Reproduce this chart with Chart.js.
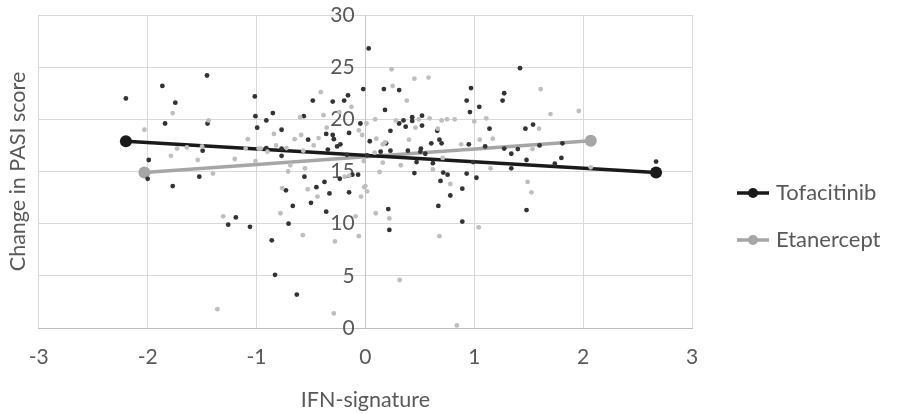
<!DOCTYPE html>
<html>
<head>
<meta charset="utf-8">
<script src="https://cdn.jsdelivr.net/npm/chart.js@4/dist/chart.umd.min.js"></script>
<style>
  html, body { margin: 0; padding: 0; background: #fff; }
</style>
</head>
<body>
<canvas id="chart" width="907" height="414"></canvas>
<script>
// series names (legend)
const seriesNames = ["Tofacitinib", "Etanercept"];

// Tofacitinib patients: [IFN-signature, change in PASI]
const tofaPoints = [
  [-2.20, 22.0], [-1.99, 16.1], [-2.00, 14.3], [-1.865, 23.2], [-1.455, 24.2],
  [-1.746, 21.6], [-1.84, 19.6], [-1.45, 19.6], [-1.016, 22.2], [-1.01, 20.3],
  [-0.994, 19.2], [-1.495, 17.0], [-1.526, 14.5], [-1.77, 13.6], [-1.19, 10.6],
  [-1.26, 9.9], [-1.06, 9.7], [0.03, 26.8], [-0.483, 21.8], [-0.30, 21.7],
  [-0.195, 21.8], [-0.16, 22.3], [-0.02, 22.9], [-0.85, 20.6], [-0.91, 19.9],
  [-0.566, 20.3], [-0.046, 19.6], [-0.77, 19.0], [-0.526, 18.05], [-0.36, 18.6],
  [-0.30, 18.5], [-0.29, 18.1], [-0.26, 17.4], [-0.23, 17.6], [-0.15, 18.7],
  [0.04, 17.9], [-0.91, 17.25], [-0.77, 17.2], [-0.77, 16.5], [-0.345, 17.1],
  [-0.17, 16.6], [-0.56, 14.5], [-0.12, 14.7], [-0.067, 14.7], [-0.235, 14.3],
  [-0.376, 14.0], [-0.45, 13.5], [-0.73, 13.2], [-0.33, 12.9], [-0.15, 13.0],
  [-0.667, 11.7], [-0.50, 12.0], [-0.36, 11.15], [-0.706, 10.0], [-0.86, 8.4],
  [-0.83, 5.1], [-0.63, 3.2], [0.17, 22.9], [0.31, 22.8], [0.97, 23.0],
  [0.93, 21.8], [0.96, 20.7], [1.046, 21.2], [0.18, 20.9], [0.31, 19.6],
  [0.35, 19.9], [0.37, 19.3], [0.43, 19.85], [0.43, 20.2], [0.52, 20.35],
  [0.52, 19.4], [0.66, 18.9], [0.23, 18.9], [0.19, 17.7], [0.68, 18.05],
  [0.70, 17.7], [0.605, 17.7], [0.95, 17.6], [0.14, 16.9], [0.23, 17.0],
  [0.39, 17.0], [0.51, 17.2], [0.505, 16.9], [0.55, 16.7], [0.015, 16.55],
  [0.47, 15.9], [0.62, 15.8], [0.45, 14.85], [0.715, 14.9], [0.755, 14.7],
  [0.69, 14.1], [0.89, 13.35], [0.93, 14.8], [1.02, 14.4], [0.78, 12.7],
  [0.21, 11.4], [0.22, 9.4], [0.67, 11.7], [0.89, 10.2], [1.42, 24.9],
  [1.275, 22.5], [1.26, 21.8], [1.14, 19.1], [1.47, 19.1], [1.54, 19.5],
  [1.10, 17.4], [1.275, 17.2], [1.40, 17.15], [1.60, 17.5], [1.81, 17.7],
  [1.34, 16.7], [1.48, 16.1], [1.80, 16.3], [1.74, 15.75], [1.34, 15.3],
  [0.99, 15.9], [1.48, 11.3], [2.67, 15.95]
];

// Etanercept patients
const etanPoints = [
  [-2.03, 19.0], [-1.77, 20.6], [-1.44, 19.9], [-1.08, 18.1], [-1.73, 17.2],
  [-1.64, 17.3], [-1.50, 17.4], [-1.786, 16.5], [-1.54, 16.1], [-1.20, 16.2],
  [-1.10, 17.2], [-0.98, 17.2], [-1.01, 16.0], [-1.40, 14.8], [-1.306, 10.7],
  [-1.36, 1.8], [-0.41, 22.6], [-0.128, 21.2], [-0.60, 20.2], [-0.385, 20.4],
  [-0.24, 20.7], [0.01, 19.6], [-0.84, 18.6], [-0.65, 18.1], [-0.59, 18.5],
  [-0.475, 17.5], [-0.43, 18.2], [-0.355, 19.2], [-0.06, 18.95], [-0.03, 18.5],
  [-0.96, 17.2], [-0.90, 16.9], [-0.725, 17.25], [-0.82, 17.5], [-0.57, 17.0],
  [-0.69, 15.6], [-0.71, 15.0], [-0.555, 15.3], [-0.19, 14.5], [-0.15, 14.6],
  [-0.765, 13.4], [-0.53, 13.3], [-0.44, 12.6], [-0.04, 12.6], [0.00, 13.6],
  [-0.78, 11.0], [-0.09, 10.7], [-0.575, 8.9], [-0.28, 8.3], [-0.06, 8.8],
  [-0.29, 1.4], [0.24, 24.8], [0.45, 23.9], [0.58, 24.0], [0.25, 23.2],
  [0.38, 21.8], [0.09, 20.0], [0.28, 19.9], [0.49, 20.0], [0.46, 19.2],
  [0.59, 20.1], [0.70, 19.9], [0.75, 20.0], [0.82, 20.0], [1.00, 19.8],
  [0.665, 19.1], [0.10, 18.15], [0.18, 17.8], [0.16, 17.6], [0.40, 18.05],
  [0.88, 17.6], [1.05, 18.05], [0.085, 16.8], [-0.015, 16.0], [0.71, 16.3],
  [0.62, 15.2], [0.16, 15.85], [0.325, 15.6], [0.13, 14.95], [0.78, 13.8],
  [-0.01, 13.5], [0.015, 13.1], [0.095, 11.0], [0.22, 10.5], [1.04, 9.65],
  [0.68, 8.8], [0.315, 4.6], [0.84, 0.25], [1.61, 22.9], [1.70, 20.5],
  [1.96, 20.8], [1.11, 20.1], [1.595, 19.1], [1.17, 18.15], [1.535, 17.15],
  [1.15, 15.3], [1.49, 14.0], [1.525, 13.0], [2.07, 15.4]
];

// fitted lines, start and end point
const tofaTrend = [[-2.20, 17.9], [2.67, 14.9]];
const etanTrend = [[-2.03, 14.9], [2.07, 17.95]];

// axis ticks
const xTicks = [-3, -2, -1, 0, 1, 2, 3];
const yTicks = [0, 5, 10, 15, 20, 25, 30];

const textColor = "#595959";
const fontFamily = "Lato, 'Open Sans', sans-serif";
const colors = ["#1a1a1a", "#a6a6a6"];
const dotColors = ["#333333", "#bfbfbf"];

const toXY = (pairs) => pairs.map(([x, y]) => ({ x: x, y: y }));

// legend on the right: line with a round marker, then the name
const sideLegend = {
  id: "sideLegend",
  afterDraw(chart) {
    const ctx = chart.ctx;
    const x0 = chart.chartArea.right + 45;
    const trends = chart.data.datasets.filter((d) => d.isTrend);
    ctx.save();
    trends.forEach((ds, i) => {
      const y = 193 + i * 47;
      ctx.strokeStyle = ds.borderColor;
      ctx.lineWidth = 3.5;
      ctx.beginPath();
      ctx.moveTo(x0, y);
      ctx.lineTo(x0 + 32, y);
      ctx.stroke();
      ctx.fillStyle = ds.borderColor;
      ctx.beginPath();
      ctx.arc(x0 + 16, y, 5, 0, Math.PI * 2);
      ctx.fill();
      ctx.fillStyle = textColor;
      ctx.font = "22px " + fontFamily;
      ctx.textBaseline = "middle";
      ctx.textAlign = "left";
      ctx.fillText(ds.label, x0 + 39, y);
    });
    ctx.restore();
  },
};

const dotStyle = (color) => ({
  showLine: false,
  pointRadius: 2.4,
  pointHoverRadius: 2.4,
  pointBorderWidth: 0,
  pointBackgroundColor: color,
  pointBorderColor: color,
});

const trendStyle = (color) => ({
  isTrend: true,
  showLine: true,
  borderColor: color,
  backgroundColor: color,
  borderWidth: 3.5,
  pointRadius: 6,
  pointBorderWidth: 0,
  pointBackgroundColor: color,
});

new Chart(document.getElementById("chart"), {
  type: "scatter",
  data: {
    datasets: [
      { label: seriesNames[1] + " patients", data: toXY(etanPoints), ...dotStyle(dotColors[1]) },
      { label: seriesNames[0] + " patients", data: toXY(tofaPoints), ...dotStyle(dotColors[0]) },
      { label: seriesNames[0], data: toXY(tofaTrend), ...trendStyle(colors[0]) },
      { label: seriesNames[1], data: toXY(etanTrend), ...trendStyle(colors[1]) },
    ],
  },
  options: {
    responsive: false,
    animation: false,
    layout: { padding: { left: 4, right: 215, top: 15, bottom: 0 } },
    plugins: { legend: { display: false }, tooltip: { enabled: false } },
    scales: {
      x: {
        type: "linear",
        min: -3,
        max: 3,
        afterBuildTicks: (s) => { s.ticks = xTicks.map((v) => ({ value: v })); },
        grid: { color: "#d9d9d9", drawTicks: false },
        border: { color: "#bfbfbf" },
        ticks: { color: textColor, font: { family: fontFamily, size: 21 }, padding: 17 },
        title: {
          display: true,
          text: "IFN-signature",
          color: textColor,
          font: { family: fontFamily, size: 21.5 },
          padding: { top: 0, bottom: 1 },
        },
      },
      y: {
        type: "linear",
        position: { x: 0 },
        min: 0,
        max: 30,
        afterBuildTicks: (s) => { s.ticks = yTicks.map((v) => ({ value: v })); },
        grid: { color: "#d9d9d9", drawTicks: false },
        border: { color: "#c4c4c4" },
        // labels sit right against the axis, keep a small gap
        ticks: {
          color: textColor,
          font: { family: fontFamily, size: 21 },
          padding: 0,
          callback: (v) => v + "  ",
        },
      },
      yTitle: {
        type: "linear",
        position: "left",
        axis: "y",
        min: 0,
        max: 30,
        grid: { display: false },
        border: { display: false },
        ticks: { display: false },
        title: {
          display: true,
          text: "Change in PASI score",
          color: textColor,
          font: { family: fontFamily, size: 21.5 },
          padding: { top: 1, bottom: 0 },
        },
      },
    },
  },
  plugins: [sideLegend],
});
</script>
</body>
</html>
